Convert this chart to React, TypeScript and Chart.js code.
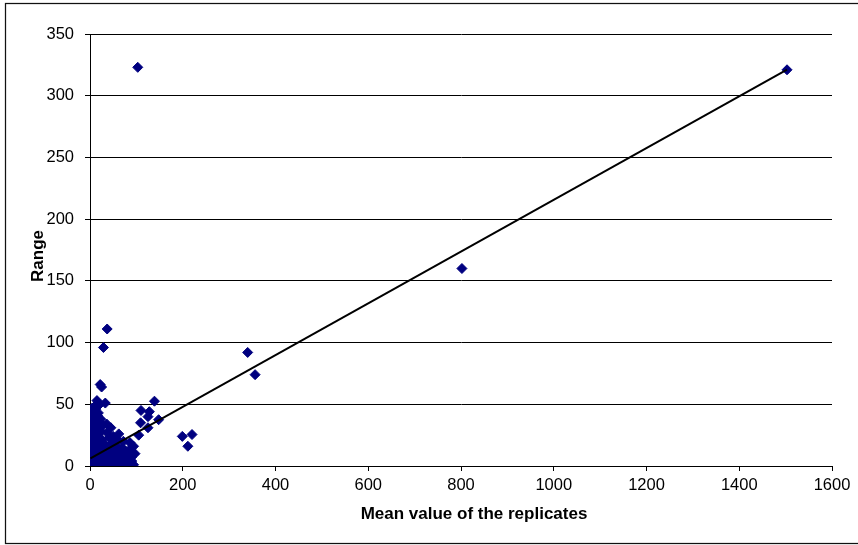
import { useEffect, useRef } from 'react';
import { Chart, registerables } from 'chart.js';

Chart.register(...registerables);

// Mean value of the replicates (x) and their range (y), one entry per sample
const meanValues = [
  103, 1503, 802, 340, 356, 37, 29, 22, 25, 199, 220, 211,
  139, 110, 128, 125, 148, 109, 125, 105, 94, 89, 71, 42,
  15, 21, 33, 12, 6, 16, 10, 18, 4, 9, 6, 20, 28, 11, 3, 15,
  24, 8, 17, 2, 13, 5, 19, 10, 1, 14, 7, 3, 18, 11, 2, 8, 15,
  1, 20, 6, 12, 2, 17, 4, 9, 23, 26, 29, 32, 35, 38, 41, 44,
  47, 50, 53, 56, 59, 62, 65, 68, 71, 74, 77, 80, 83, 86, 90,
  94, 97, 85, 77, 64, 52, 40, 28, 24, 33, 46, 57, 69, 86, 60,
  50, 45, 36, 55, 72, 62, 30, 14,
  1, 3, 5, 2, 7, 4, 12, 8, 13, 18, 22, 26, 31, 35, 39, 43,
  48, 54, 58, 63, 67, 73, 78, 82, 88, 92, 21, 27, 37, 44, 49,
  56, 66, 75, 81, 1, 5, 9, 23, 16, 3, 19, 11, 7, 25, 31, 42,
];
const rangeValues = [
  323, 321, 160, 92, 74, 111, 96, 66, 64, 24, 25.5, 16,
  52.5, 45, 44, 40, 37.5, 35, 31, 25, 16, 7, 10, 23,
  53, 50, 51, 46, 43, 41, 38, 36, 40, 48, 34, 33, 33, 32, 30, 29,
  28, 27, 26, 25, 24, 21, 20, 19, 17, 16, 14, 13, 12, 11, 9, 8, 7,
  5, 5, 4, 3, 2, 1, 0.5, 0.5, 2, 5, 1, 8, 3, 6, 1, 9,
  4, 1, 6, 2, 9, 4, 1, 7, 3, 6, 1, 5, 9, 2, 4,
  1, 10, 13, 12, 12, 12, 13, 13, 18, 17, 17, 16, 15, 19, 21,
  24, 31, 34, 20, 20, 26, 11, 36,
  45, 36, 47, 20, 31, 27, 40, 44, 14, 43, 8, 10, 4, 10, 11, 5,
  9, 10, 6, 8, 11, 10, 5, 10, 8, 9, 14, 21, 27, 12, 7,
  3, 3, 3, 2, 11, 16, 23, 38, 33, 36, 30, 6, 1, 0.5, 0.5, 17,
];

// Linear trend fitted through the samples
const trendIntercept = 6.0;
const trendSlope = 0.2097;

const xAxisMax = 1600;
const xAxisStep = 200;
const yAxisMax = 350;
const yAxisStep = 50;

const xTitle = 'Mean value of the replicates';
const yTitle = 'Range';

const FONT = '"Liberation Sans", Arial, sans-serif';

export default function App() {
  const canvasRef = useRef<HTMLCanvasElement>(null);

  useEffect(() => {
    const canvas = canvasRef.current;
    if (!canvas) return;

    const points = meanValues.map((x, i) => ({ x, y: rangeValues[i] }));
    const xMin = Math.min(...meanValues);
    const xMax = Math.max(...meanValues);
    const trend = [
      { x: xMin, y: trendIntercept + trendSlope * xMin },
      { x: xMax, y: trendIntercept + trendSlope * xMax },
    ];

    const frame = {
      id: 'frame',
      beforeDraw(chart: any) {
        const { ctx, width, height } = chart;
        ctx.save();
        ctx.fillStyle = '#ffffff';
        ctx.fillRect(0, 0, width, height);
        ctx.restore();
      },
      afterDraw(chart: any) {
        const { ctx } = chart;
        ctx.save();
        ctx.strokeStyle = '#111';
        ctx.lineWidth = 1.25;
        ctx.strokeRect(5.5, 3.5, 860, 540);

        ctx.fillStyle = '#000';
        ctx.font = `bold 17px ${FONT}`;
        ctx.textAlign = 'center';
        ctx.textBaseline = 'middle';
        ctx.fillText(xTitle, 474, 514);

        ctx.translate(38, 256);
        ctx.rotate(-Math.PI / 2);
        ctx.fillText(yTitle, 0, 0);
        ctx.restore();
      },
    };

    const chart = new Chart(canvas, {
      type: 'scatter',
      data: {
        datasets: [
          {
            type: 'line',
            data: trend,
            borderColor: '#000',
            borderWidth: 2,
            pointRadius: 0,
            fill: false,
            order: 0,
          } as any,
          {
            data: points,
            pointStyle: 'rectRot',
            pointRadius: 5,
            pointBorderWidth: 1,
            backgroundColor: '#000080',
            borderColor: '#000080',
            order: 1,
          },
        ],
      },
      options: {
        responsive: false,
        animation: false,
        layout: { padding: { left: 0, right: 26, top: 34, bottom: 0 } },
        plugins: {
          legend: { display: false },
          tooltip: { enabled: false },
        },
        scales: {
          x: {
            type: 'linear',
            min: 0,
            max: xAxisMax,
            ticks: {
              stepSize: xAxisStep,
              color: '#000',
              padding: 5,
              font: { family: FONT, size: 16.5 },
              maxRotation: 0,
              callback: (v: any) => String(v),
            },
            grid: {
              drawOnChartArea: false,
              drawTicks: true,
              tickLength: 5,
              color: '#000',
            },
            border: { display: true, color: '#000', width: 1 },
            afterFit(scale: any) {
              scale.height = 79;
            },
          },
          y: {
            type: 'linear',
            min: 0,
            max: yAxisMax,
            ticks: {
              stepSize: yAxisStep,
              color: '#000',
              padding: 11,
              font: { family: FONT, size: 16.5 },
              callback: (v: any) => String(v),
            },
            grid: {
              drawOnChartArea: true,
              drawTicks: true,
              tickLength: 5,
              color: '#000',
            },
            border: { display: true, color: '#000', width: 1 },
            afterFit(scale: any) {
              scale.width = 90;
            },
          },
        },
      },
      plugins: [frame],
    });

    return () => chart.destroy();
  }, []);

  return (
    <div style={{ position: 'fixed', left: 0, top: 0, width: 858, height: 545, background: '#fff' }}>
      <canvas ref={canvasRef} width={858} height={545} style={{ width: 858, height: 545, display: 'block' }} />
    </div>
  );
}
